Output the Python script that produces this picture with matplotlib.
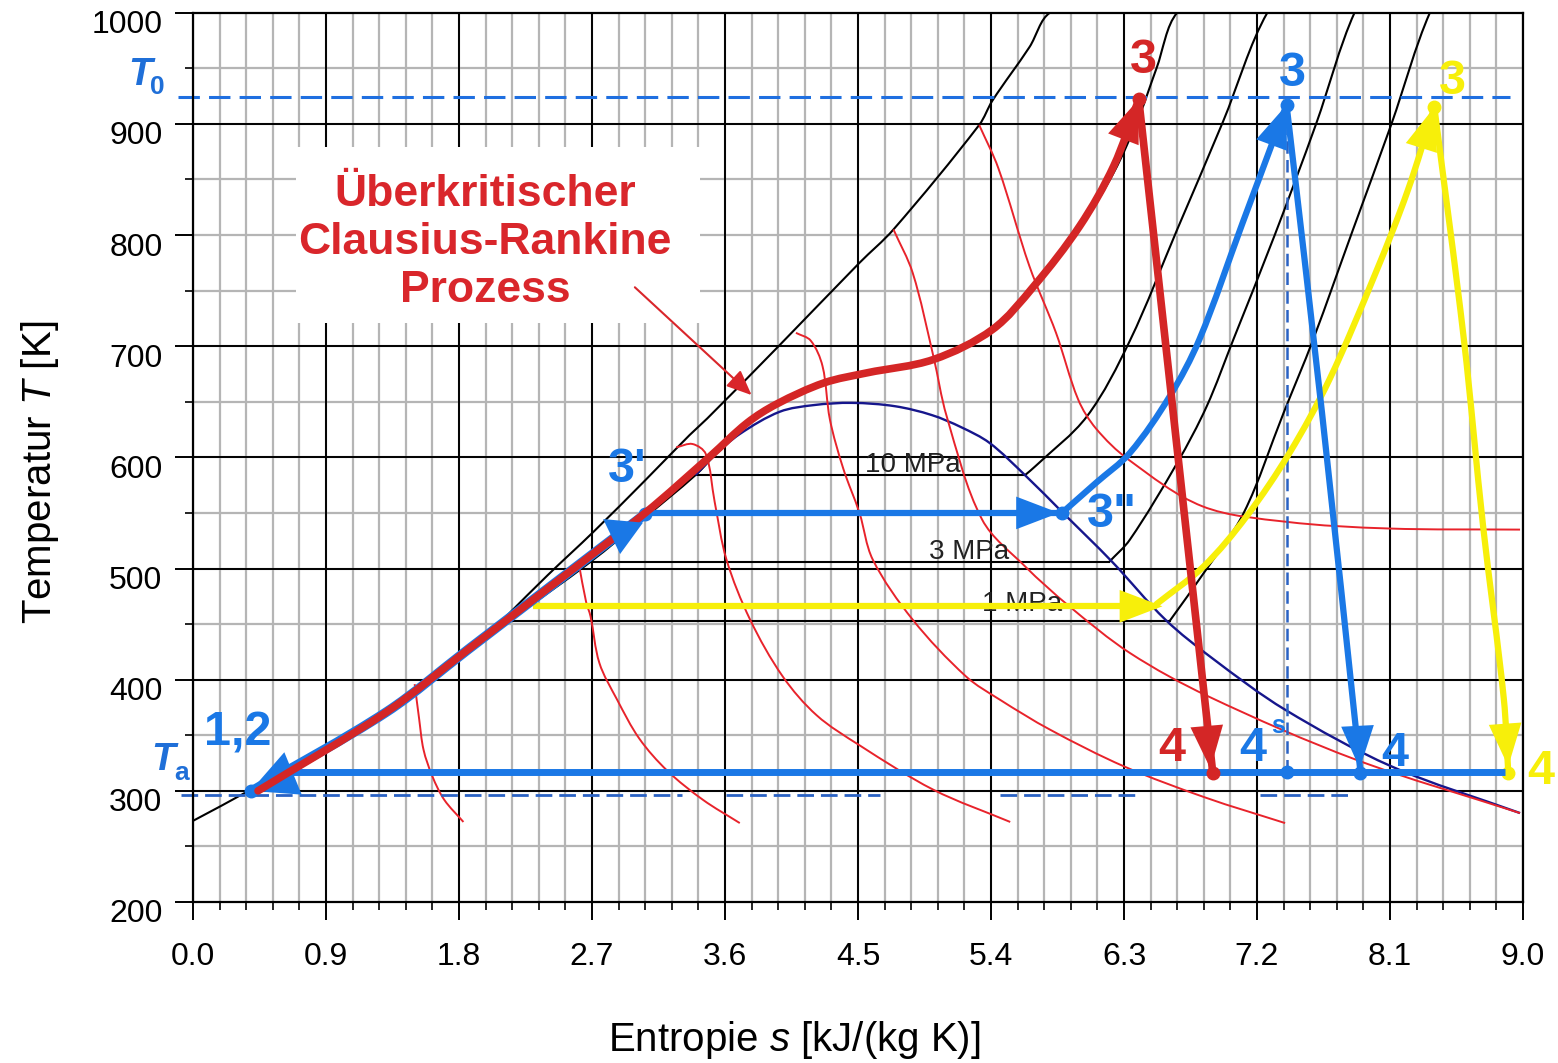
import numpy as np
import matplotlib
matplotlib.use("Agg")
import matplotlib.pyplot as plt
from matplotlib.patches import Rectangle, PathPatch
from matplotlib.path import Path
from matplotlib.transforms import ScaledTranslation

plt.rcParams['font.family'] = ['Liberation Sans', 'DejaVu Sans']
plt.rcParams['mathtext.fontset'] = 'custom'
plt.rcParams['mathtext.rm'] = 'Liberation Sans'
plt.rcParams['mathtext.it'] = 'Liberation Sans:italic'

# ---------------- data ----------------
x_ticks = [0.0, 0.9, 1.8, 2.7, 3.6, 4.5, 5.4, 6.3, 7.2, 8.1, 9.0]
y_ticks = [200, 300, 400, 500, 600, 700, 800, 900, 1000]

# saturated liquid line
liq_s = [0.0, 0.39, 0.80, 1.31, 1.80, 2.14, 2.69, 3.05, 3.40, 3.53]
liq_T = [273, 301, 333, 370, 420, 453, 506, 545, 584, 602]
# saturation dome (navy)
dome_s = [3.40, 3.53, 3.70, 3.97, 4.20, 4.46, 4.75, 5.00, 5.20, 5.39, 5.63, 5.88, 6.22, 6.58, 6.90, 7.39, 8.11, 8.98]
dome_T = [584, 602, 621, 641, 647, 649, 646, 638, 627, 613, 584, 551, 506, 454, 419, 373, 322, 280]
# supercritical isobar
sc_s = [2.00, 2.12, 2.40, 2.71, 3.05, 3.36, 3.48, 3.97, 4.51, 4.74, 5.32, 5.41, 5.66, 5.80, 6.05]
sc_T = [441, 457, 494, 533, 578, 620, 635, 701, 775, 805, 899, 921, 969, 1000, 1000]
# upper isobar next to the red process
iso_b_s = [5.69, 6.00, 6.23, 6.40, 6.52, 6.66, 6.85]
iso_b_T = [754, 806, 856, 906, 950, 1000, 1000]
# 10 MPa: two-phase part and superheated part
p10_flat_s = [3.40, 5.63]
p10_flat_T = [584, 584]
p10_s = [5.63, 5.70, 6.05, 6.34, 6.66, 6.97, 7.27, 7.39]
p10_T = [584, 592, 637, 705, 805, 902, 1000, 1000]
# 3 MPa
p3_flat_s = [2.69, 6.20]
p3_flat_T = [506, 506]
p3_s = [6.20, 6.34, 6.66, 6.86, 7.04, 7.32, 7.60, 7.86, 7.94]
p3_T = [506, 526, 595, 646, 706, 800, 900, 1000, 1000]
# 1 MPa
p1_flat_s = [2.14, 6.61]
p1_flat_T = [453, 453]
p1_s = [6.61, 6.84, 7.11, 7.38, 7.58, 7.85, 8.11, 8.37, 8.44]
p1_T = [453, 496, 550, 640, 706, 805, 900, 1000, 1000]
pressure_labels = ["10 MPa", "3 MPa", "1 MPa"]

# isenthalps (thin red)
h1_s = [1.50, 1.53, 1.56, 1.62, 1.70, 1.83]
h1_T = [396, 365, 337, 313, 292, 272]
h2_s = [2.61, 2.66, 2.69, 2.75, 2.87, 3.02, 3.21, 3.45, 3.70]
h2_T = [505, 470, 457, 415, 382, 347, 318, 292, 271]
h3_s = [3.27, 3.38, 3.47, 3.53, 3.61, 3.77, 3.99, 4.22, 4.51, 5.01, 5.53]
h3_T = [609, 612, 603, 560, 508, 454, 403, 368, 341, 301, 272]
h4_s = [4.08, 4.18, 4.26, 4.31, 4.40, 4.51, 4.60, 4.87, 5.23, 5.46, 5.80, 6.30, 6.85, 7.39]
h4_T = [712, 705, 682, 634, 590, 550, 508, 454, 403, 382, 355, 322, 294, 271]
h5_s = [4.74, 4.87, 5.01, 5.10, 5.34, 5.63, 5.93, 6.34, 6.87, 7.87, 8.98]
h5_T = [805, 766, 691, 637, 544, 502, 466, 424, 385, 328, 280]
h6_s = [5.32, 5.45, 5.66, 5.84, 5.99, 6.11, 6.33, 6.83, 7.40, 8.09, 8.98]
h6_T = [899, 860, 772, 712, 652, 626, 598, 556, 542, 536, 535]

# red supercritical process
red_s = [0.44, 1.31, 1.86, 2.42, 3.06, 3.50, 3.75, 3.95, 4.27, 4.56, 5.01, 5.41, 5.69, 6.00, 6.23, 6.40]
red_T = [300, 371, 427, 484, 550, 601, 631, 648, 667, 676, 688, 715, 754, 808, 862, 922]
red_exp_s = [6.40, 6.90]
red_exp_T = [922, 317]

# blue subcritical process
blue_pump_s = [0.40, 1.31, 1.86, 2.42, 3.06]
blue_pump_T = [300, 371, 427, 484, 549]
blue_evap_s = [3.06, 5.88]
blue_evap_T = [550, 550]
blue_sup_s = [5.88, 6.11, 6.34, 6.61, 6.81, 7.10, 7.40]
blue_sup_T = [550, 577, 604, 655, 706, 810, 917]
blue_exp_s = [7.40, 7.64, 7.90]
blue_exp_T = [917, 640, 317]
cond_s = [0.59, 8.88]
cond_T = [317, 317]
s4s = 7.40

# yellow process
yel_evap_s = [2.30, 6.52]
yel_evap_T = [466, 466]
yel_sup_s = [6.52, 6.84, 7.13, 7.42, 7.69, 8.00, 8.22, 8.40]
yel_sup_T = [468, 502, 547, 604, 670, 765, 840, 915]
yel_exp_s = [8.40, 8.60, 8.73, 8.87, 8.90]
yel_exp_T = [915, 706, 538, 383, 317]

T0 = 924
Ta_dash = 296
Ta_dash_segments = [(-0.08, 3.31), (3.61, 4.65), (5.46, 6.39), (7.22, 7.84)]

# ---------------- styling ----------------
RED = '#d42626'
RED_T = '#e8232b'
BLUE = '#1a78e6'
BLUE_D = '#2a62c4'
YEL = '#f7ef0a'
NAVY = '#16168c'

fig = plt.figure(figsize=(15.58, 10.63), dpi=100)
W, H = 1558, 1063
ax = fig.add_axes([193 / W, 1 - 902 / H, (1523 - 193) / W, (902 - 12.7) / H])
ax.set_xlim(0, 9.0)
ax.set_ylim(200, 1000)

# pixel scale used only to shape the smooth curve through the read points
SX, SY = 147.8, 1.112


def smooth_line(xs, ys, **kw):
    """Draw a smooth cubic curve passing through the given data points."""
    P = np.column_stack([np.asarray(xs, float), np.asarray(ys, float)])
    n = len(P)
    Q = P * np.array([SX, SY])
    seg = np.linalg.norm(np.diff(Q, axis=0), axis=1)
    tang = np.zeros_like(P)
    for i in range(n):
        if i == 0:
            d = (P[1] - P[0]) / max(seg[0], 1e-9)
        elif i == n - 1:
            d = (P[-1] - P[-2]) / max(seg[-1], 1e-9)
        else:
            d = (P[i + 1] - P[i - 1]) / max(seg[i - 1] + seg[i], 1e-9)
        tang[i] = d
    verts = [P[0]]
    codes = [Path.MOVETO]
    for i in range(n - 1):
        L = seg[i]
        verts += [P[i] + tang[i] * L / 3, P[i + 1] - tang[i + 1] * L / 3, P[i + 1]]
        codes += [Path.CURVE4] * 3
    patch = PathPatch(Path(verts, codes), fill=False, **kw)
    ax.add_patch(patch)
    return patch


# grid
for xv in np.arange(0, 9.0001, 0.18):
    ax.axvline(xv, color='#b5b5b5', lw=1.6, zorder=0.5)
for xv in x_ticks:
    ax.axvline(xv, color='black', lw=1.4, zorder=0.6)
for yv in range(250, 1000, 50):
    ax.axhline(yv, color='#b5b5b5', lw=1.6, zorder=0.5)
for yv in [300, 400, 500, 600, 700, 900]:
    ax.axhline(yv, color='black', lw=1.4, zorder=0.6)

# white box behind annotation text
ax.add_patch(Rectangle((0.70, 721), 2.73, 158, facecolor='white', edgecolor='none', zorder=0.8))

# black isobars & liquid line
kw = dict(edgecolor='black', lw=1.5, zorder=2)
smooth_line(liq_s, liq_T, **kw)
smooth_line(sc_s, sc_T, **kw)
smooth_line(iso_b_s, iso_b_T, **kw)
for fs, fT, cs, cT in [(p10_flat_s, p10_flat_T, p10_s, p10_T),
                       (p3_flat_s, p3_flat_T, p3_s, p3_T),
                       (p1_flat_s, p1_flat_T, p1_s, p1_T)]:
    ax.plot(fs, fT, color='black', lw=1.5, zorder=2)
    smooth_line(cs, cT, **kw)
smooth_line(dome_s, dome_T, edgecolor=NAVY, lw=1.7, zorder=2.2)

for hs, hT in [(h1_s, h1_T), (h2_s, h2_T), (h3_s, h3_T), (h4_s, h4_T), (h5_s, h5_T), (h6_s, h6_T)]:
    smooth_line(hs, hT, edgecolor=RED_T, lw=1.4, zorder=2.5)

ax.text(4.55, 587, pressure_labels[0], fontsize=20, color='#222222', va='baseline', ha='left', zorder=2.6)
ax.text(4.98, 509, pressure_labels[1], fontsize=20, color='#222222', va='baseline', ha='left', zorder=2.6)
ax.text(5.34, 462, pressure_labels[2], fontsize=20, color='#222222', va='baseline', ha='left', zorder=2.6)

# dashed reference lines
ax.plot([-0.10, 8.91], [T0, T0], color='#1f6fe0', lw=2.2, dashes=(7, 3), zorder=3, clip_on=False)
for a, b in Ta_dash_segments:
    ax.plot([a, b], [Ta_dash, Ta_dash], color=BLUE_D, lw=2.0, dashes=(6, 2.5), zorder=3, clip_on=False)
ax.plot([s4s, s4s], [317, 917], color=BLUE_D, lw=1.8, dashes=(5, 2.5), zorder=3)


def head(p_from, p_to, color, ms=28, hl=1.1, hw=0.42, z=6):
    ax.annotate('', xy=p_to, xytext=p_from, zorder=z,
                arrowprops=dict(arrowstyle='-|>,head_length=%g,head_width=%g' % (hl, hw),
                                color=color, lw=0, shrinkA=0, shrinkB=0, mutation_scale=ms))


# yellow process
ax.plot(yel_evap_s, yel_evap_T, color=YEL, lw=4.5, zorder=4, solid_capstyle='butt')
smooth_line(yel_sup_s, yel_sup_T, edgecolor=YEL, lw=4.5, zorder=4, capstyle='round')
smooth_line(yel_exp_s, yel_exp_T, edgecolor=YEL, lw=4.5, zorder=4, capstyle='round')
head((6.10, 466), (6.56, 466), YEL, z=4.1)
head((8.24, 848), (8.40, 915), YEL, z=4.1)
head((8.83, 450), (8.90, 322), YEL, z=4.1)
ax.plot([8.40, 8.90], [915, 316], 'o', color=YEL, ms=9, zorder=4.2)

# blue process
ax.plot(cond_s, cond_T, color=BLUE, lw=5, zorder=5, solid_capstyle='butt')
smooth_line(blue_pump_s, blue_pump_T, edgecolor=BLUE, lw=7, zorder=5, capstyle='round')
ax.plot(blue_evap_s, blue_evap_T, color=BLUE, lw=4.5, zorder=5)
smooth_line(blue_sup_s, blue_sup_T, edgecolor=BLUE, lw=4.5, zorder=5, capstyle='round')
smooth_line(blue_exp_s, blue_exp_T, edgecolor=BLUE, lw=4.5, zorder=5, capstyle='round')
head((5.45, 550), (5.86, 550), BLUE, z=5.1)
head((7.24, 860), (7.40, 917), BLUE, z=5.1)
head((7.845, 450), (7.895, 320), BLUE, z=5.1)
head((2.93, 572), (2.89, 513), BLUE, ms=24, hl=1.0, hw=0.6, z=6.5)
head((0.72, 318), (0.39, 300), BLUE, ms=30, hl=1.1, hw=0.55, z=5.1)
ax.plot([0.39, 3.06, 5.88, 7.40, s4s, 7.90], [300, 549, 550, 917, 317, 316], 'o',
        color=BLUE, ms=9, zorder=5.2)

# red process
smooth_line(red_s, red_T, edgecolor=RED, lw=5.5, zorder=6, capstyle='round')
ax.plot(red_exp_s, red_exp_T, color=RED, lw=5.5, zorder=6)
head((6.22, 860), (6.40, 922), RED, z=6.1)
head((6.80, 450), (6.885, 320), RED, z=6.1)
ax.plot([6.40, 6.90], [922, 316], 'o', color=RED, ms=9, zorder=6.2)

# annotation
ax.text(1.976, 793, "Überkritischer\nClausius-Rankine\nProzess", color='#d9262b', fontsize=32,
        fontweight='bold', ha='center', va='center', linespacing=1.22, zorder=7)
ax.annotate('', xy=(3.78, 656), xytext=(2.99, 753), zorder=7,
            arrowprops=dict(arrowstyle='-|>,head_length=0.7,head_width=0.3', color='#d9262b',
                            lw=1.5, shrinkA=0, shrinkB=0, mutation_scale=22))

# point labels
lab = dict(fontsize=35, fontweight='bold', ha='center', va='center', zorder=8, clip_on=False)
ax.text(6.43, 957, "3", color=RED, **lab)
ax.text(7.44, 945, "3", color=BLUE, **lab)
ax.text(8.52, 938, "3", color=YEL, **lab)
ax.text(2.94, 589, "3'", color=BLUE, **lab)
ax.text(6.22, 549, '3"', color=BLUE, **lab)
ax.text(0.30, 352, "1,2", color=BLUE, **lab)
ax.text(6.62, 338, "4", color=RED, **lab)
ax.text(7.17, 338, "4", color=BLUE, **lab)
ax.text(7.34, 358, "s", color=BLUE, fontsize=18, fontweight='bold', ha='center', va='center', zorder=8)
ax.text(8.13, 334, "4", color=BLUE, **lab)
ax.text(9.12, 317, "4", color=YEL, **lab)
ax.text(-0.36, 944, "T", color='#1f6fd8', fontsize=28, fontstyle='italic', fontweight='bold',
        ha='center', va='center', clip_on=False)
ax.text(-0.24, 933, "0", color='#1f6fd8', fontsize=19, fontweight='bold', ha='center', va='center', clip_on=False)
ax.text(-0.20, 328, "T", color='#1f6fd8', fontsize=28, fontstyle='italic', fontweight='bold',
        ha='center', va='center', clip_on=False)
ax.text(-0.08, 316, "a", color='#1f6fd8', fontsize=19, fontweight='bold', ha='center', va='center', clip_on=False)

# axes / ticks
ax.set_xticks(x_ticks)
ax.set_xticklabels(["%.1f" % v for v in x_ticks])
ax.set_xticks(np.arange(0, 9.0001, 0.18), minor=True)
ax.set_yticks(y_ticks)
ax.set_yticklabels([str(v) for v in y_ticks])
ax.set_yticks(np.arange(200, 1001, 50), minor=True)
ax.tick_params(axis='x', which='major', direction='out', length=13, width=1.4, pad=16, labelsize=23)
ax.tick_params(axis='x', which='minor', direction='out', length=6, width=1.2)
ax.tick_params(axis='y', which='major', direction='out', length=13, width=1.4, pad=9, labelsize=23)
ax.tick_params(axis='y', which='minor', direction='out', length=6, width=1.2)
for t in ax.yaxis.get_major_ticks():
    t.label1.set_transform(t.label1.get_transform() + ScaledTranslation(0, -9 / 100, fig.dpi_scale_trans))
for sp in ax.spines.values():
    sp.set_linewidth(1.6)
    sp.set_zorder(3)

fig.text(794 / W, 1 - 1040 / H, r"Entropie $s$ [kJ/(kg K)]", fontsize=29, ha='center', va='center')
fig.text(40 / W, 1 - 472 / H, r"Temperatur $T$ [K]", fontsize=29, ha='center', va='center', rotation=90)

fig.savefig("out.png", dpi=100)
